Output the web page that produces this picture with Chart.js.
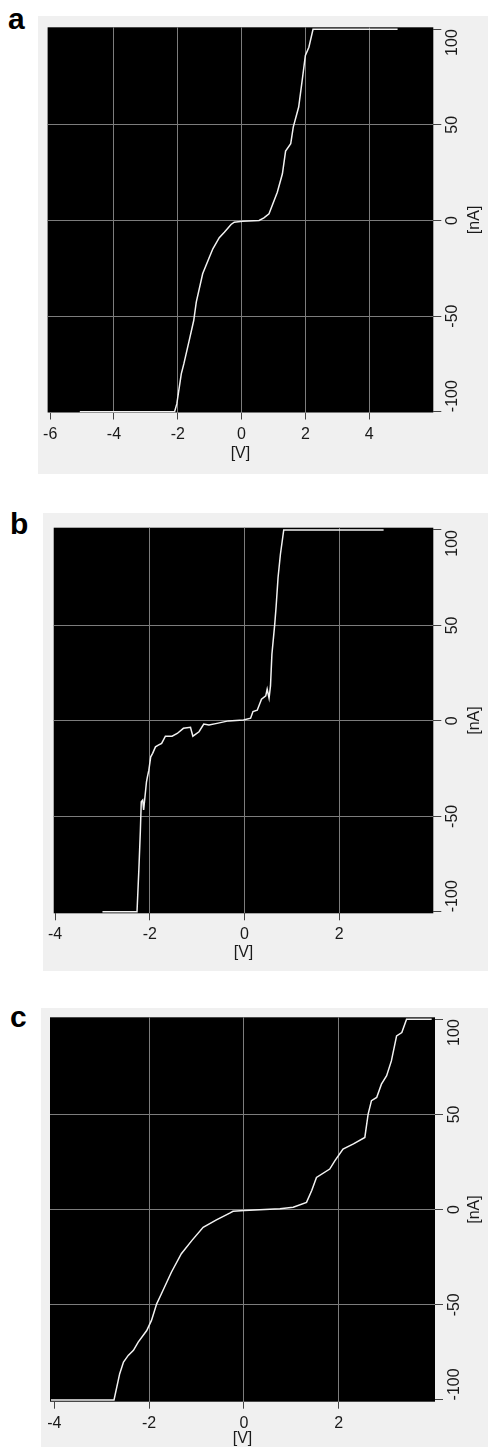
<!DOCTYPE html>
<html>
<head>
<meta charset="utf-8">
<script src="https://cdn.jsdelivr.net/npm/chart.js@4/dist/chart.umd.min.js"></script>
<style>
  html, body { margin: 0; padding: 0; background: #fff; width: 488px; height: 1447px; overflow: hidden; position: relative; }
  .panel { position: absolute; background: #f0f0f0; }
  .panel canvas { display: block; }
  .tag { position: absolute; font: bold 30px/30px "Liberation Sans", Arial, sans-serif; color: #000; }
</style>
</head>
<body>
<div class="tag" style="left:8px;top:4px">a</div>
<div class="panel" style="left:38px;top:16px;width:450px;height:458px"><canvas id="chartA" width="450" height="458"></canvas></div>
<div class="tag" style="left:10px;top:509px">b</div>
<div class="panel" style="left:43px;top:513px;width:445px;height:458px"><canvas id="chartB" width="445" height="458"></canvas></div>
<div class="tag" style="left:10px;top:1002px">c</div>
<div class="panel" style="left:41px;top:1008px;width:447px;height:450px"><canvas id="chartC" width="447" height="450"></canvas></div>
<script>
// I-V curves: bias [V] and current [nA]
const V_A = [-5.07, -2.10, -2.03, -1.89, -1.81, -1.63, -1.50, -1.42, -1.22, -1.01, -0.90, -0.70, -0.54, -0.33, -0.23, 0.03, 0.55, 0.70, 0.86, 1.12, 1.28, 1.38, 1.54, 1.62, 1.79, 1.90, 2.00, 2.11, 2.24, 4.89];
const I_A = [-100, -100, -95.9, -80.2, -75, -61.9, -52.3, -42.7, -27.9, -19.2, -14.8, -9.0, -6.1, -2.1, -0.9, -0.4, 0, 1.4, 3.5, 14.8, 24.4, 36.3, 40.1, 48.8, 59.3, 73.2, 86.3, 90.6, 100, 100];

const V_B = [-3.00, -2.27, -2.23, -2.20, -2.18, -2.15, -2.13, -2.07, -2.05, -2.02, -1.98, -1.94, -1.88, -1.82, -1.75, -1.67, -1.53, -1.42, -1.29, -1.14, -1.09, -0.96, -0.86, -0.75, -0.58, -0.34, -0.02, 0.13, 0.18, 0.27, 0.36, 0.45, 0.48, 0.52, 0.55, 0.58, 0.64, 0.67, 0.71, 0.76, 0.83, 2.94];
const I_B = [-100, -100, -77.3, -58.1, -42.4, -41.5, -46.7, -31.9, -29.3, -25.8, -18.8, -17.0, -13.6, -12.7, -11.8, -8.0, -8.0, -6.6, -3.9, -3.4, -8.0, -5.7, -1.7, -2.2, -1.3, 0, 0.5, 1.4, 4.9, 5.6, 11.4, 13.1, 16.6, 11.9, 18.3, 34.9, 50.7, 60.2, 75.1, 87.3, 100, 100];

const V_C = [-4.07, -2.74, -2.62, -2.54, -2.44, -2.33, -2.23, -2.05, -1.95, -1.84, -1.74, -1.53, -1.32, -1.10, -0.86, -0.58, -0.30, -0.23, 0.01, 0.76, 1.04, 1.32, 1.43, 1.53, 1.81, 1.92, 2.09, 2.31, 2.55, 2.62, 2.69, 2.80, 2.90, 3.01, 3.11, 3.22, 3.33, 3.43, 3.96];
const I_C = [-100, -100, -86.2, -80.1, -76.6, -73.9, -69.6, -63.5, -58.2, -49.5, -44.2, -32.9, -23.2, -16.3, -9.3, -5.4, -1.9, -0.9, -0.5, 0.4, 1.2, 3.8, 10, 16.9, 21.3, 25.7, 31.8, 34.5, 37.9, 50.2, 57.2, 58.9, 65.9, 70.3, 78.1, 91.2, 93, 100, 100];

const X_TICKS_A = [-6, -4, -2, 0, 2, 4];
const X_TICKS_BC = [-4, -2, 0, 2];
const Y_TICKS = [-100, -50, 0, 50, 100];
const X_TITLE = "[V]";
const Y_TITLE = "[nA]";

const FONT = { family: '"Liberation Sans", Arial, sans-serif', size: 16 };
const INK = "#1a1a1a";
const GRID = "#7c7c7c";
const TICK = "#444";
const NONE = "rgba(0,0,0,0)";

// ±100 labels sit inside the range, like the original plotting program
const yLabel = (v) => {
  if (v === 100) return "100      ";
  if (v === -100) return "       -100";
  return String(v);
};

const plotBg = {
  id: "plotBg",
  beforeDraw(c) {
    const a = c.chartArea;
    c.ctx.save();
    c.ctx.fillStyle = "#000";
    c.ctx.fillRect(a.left, a.top, a.width, a.height);
    c.ctx.restore();
  },
};

const yTitle = {
  id: "yTitle",
  afterDraw(c) {
    const a = c.chartArea, ctx = c.ctx;
    ctx.save();
    ctx.translate(c.width - 13, (a.top + a.bottom) / 2);
    ctx.rotate(-Math.PI / 2);
    ctx.font = `${FONT.size}px ${FONT.family}`;
    ctx.fillStyle = INK;
    ctx.textAlign = "center";
    ctx.textBaseline = "middle";
    ctx.fillText(Y_TITLE, 0, 0);
    ctx.restore();
  },
};

const panels = [
  { id: "chartA", v: V_A, i: I_A, xTicks: X_TICKS_A, xMin: -6.08, xMax: 6.01, yMin: -100.4, yMax: 101, padL: 7.7, padT: 11.3, yw: 54.7, xh: 61.5, tpb: 10.9 },
  { id: "chartB", v: V_B, i: I_B, xTicks: X_TICKS_BC, xMin: -4.03, xMax: 3.99, yMin: -100.8, yMax: 101.2, padL: 5.7, padT: 14.7, yw: 54.7, xh: 57.7, tpb: 8.4 },
  { id: "chartC", v: V_C, i: I_C, xTicks: X_TICKS_BC, xMin: -4.09, xMax: 4.03, yMin: -100.9, yMax: 101, padL: 9, padT: 9.3, yw: 53, xh: 56.3, tpb: 9.9 },
];

for (const p of panels) {
  new Chart(document.getElementById(p.id), {
    type: "line",
    data: {
      datasets: [{
        data: p.v.map((x, k) => ({ x, y: p.i[k] })),
        borderColor: "#f2f2f2",
        borderWidth: 1.5,
        pointRadius: 0,
        tension: 0,
      }],
    },
    options: {
      responsive: false,
      animation: false,
      devicePixelRatio: 1,
      layout: { padding: { left: p.padL, top: p.padT, right: 0, bottom: 0 } },
      plugins: { legend: { display: false }, tooltip: { enabled: false } },
      scales: {
        x: {
          type: "linear",
          min: p.xMin,
          max: p.xMax,
          afterBuildTicks: (s) => { s.ticks = p.xTicks.map((value) => ({ value })); },
          afterFit: (s) => { s.height = p.xh; },
          grid: {
            color: (ctx) => (ctx.tick && ctx.tick.value === p.xTicks[0] ? NONE : GRID),
            tickColor: TICK,
            tickLength: 7,
          },
          border: { display: false },
          ticks: { color: INK, font: FONT, padding: 5, maxRotation: 0, callback: (v) => String(v) },
          title: { display: true, text: X_TITLE, color: INK, font: FONT, padding: { top: 0, bottom: p.tpb } },
        },
        y: {
          type: "linear",
          position: "right",
          min: p.yMin,
          max: p.yMax,
          afterBuildTicks: (s) => { s.ticks = Y_TICKS.map((value) => ({ value })); },
          afterFit: (s) => { s.width = p.yw; },
          grid: {
            color: (ctx) => (ctx.tick && Math.abs(ctx.tick.value) === 100 ? NONE : GRID),
            tickColor: TICK,
            tickLength: 8,
          },
          border: { display: false },
          ticks: { color: INK, font: FONT, padding: -20, minRotation: 90, maxRotation: 90, crossAlign: "center", callback: yLabel },
        },
      },
    },
    plugins: [plotBg, yTitle],
  });
}
</script>
</body>
</html>
